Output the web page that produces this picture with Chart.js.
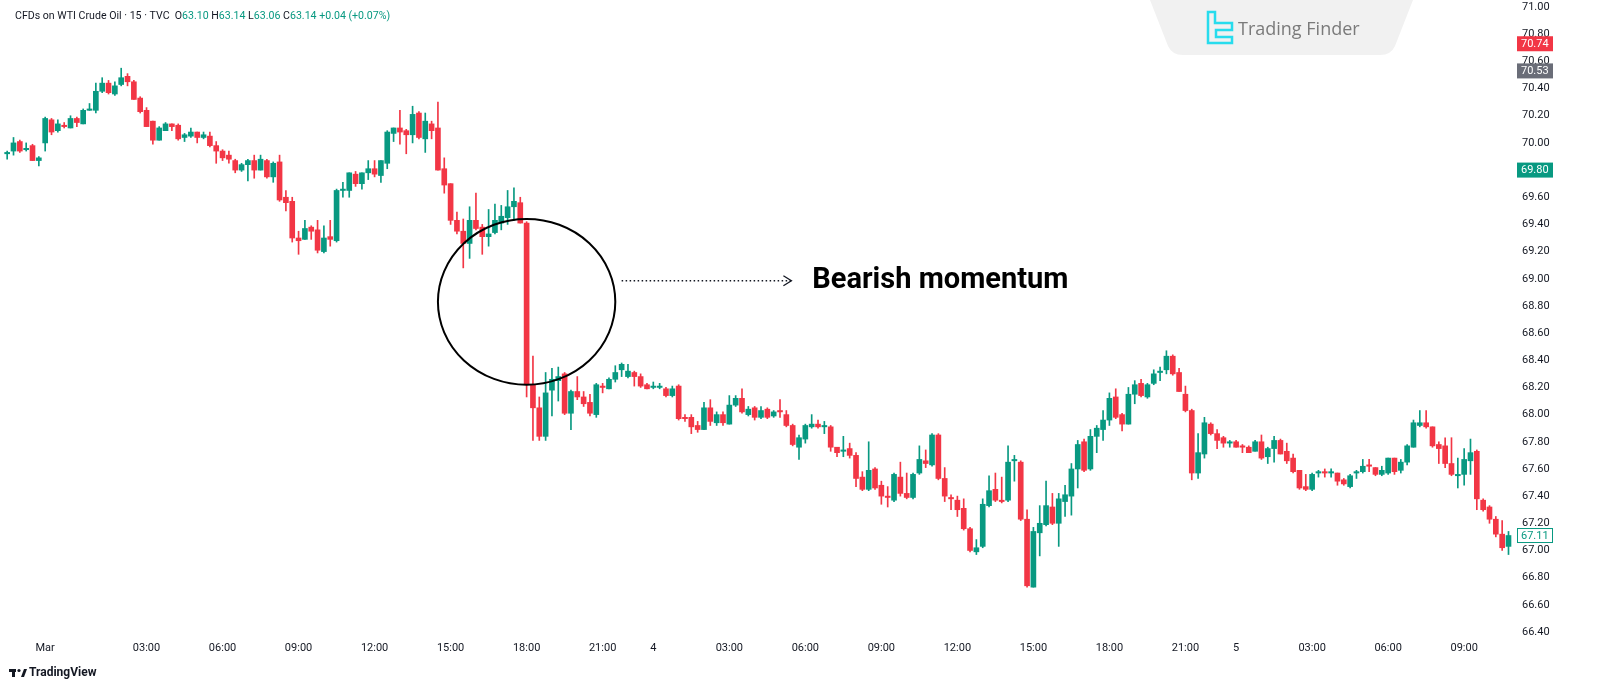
<!DOCTYPE html>
<html>
<head>
<meta charset="utf-8">
<script src="https://cdn.jsdelivr.net/npm/chart.js@4.4.0/dist/chart.umd.min.js"></script>
<style>
  html, body { margin: 0; padding: 0; background: #ffffff; }
  #wrap { width: 1600px; height: 700px; }
</style>
</head>
<body>
<div id="wrap"><canvas id="oil-chart" width="1600" height="700"></canvas></div>
<script>
// 15 min candles, WTI crude CFD
const opens = [
  69.92,69.94,70.01,69.95,69.98,69.87,70.00,70.17,70.09,70.13,70.11,70.18,70.14,70.24,70.24,70.38,70.44,70.36,70.43,70.49,
  70.45,70.33,70.24,70.16,70.02,70.09,70.14,70.13,70.04,70.05,70.08,70.04,70.05,69.98,69.94,69.91,69.87,69.80,69.84,69.87,
  69.80,69.87,69.75,69.86,69.60,69.57,69.30,69.29,69.38,69.36,69.20,69.31,69.28,69.65,69.65,69.77,69.70,69.78,69.81,69.76,
  69.85,70.07,70.11,70.09,70.06,70.22,70.03,70.14,70.11,69.81,69.70,69.43,69.35,69.26,69.43,69.38,69.31,69.34,69.41,69.45,
  69.53,69.56,69.41,68.22,68.05,67.84,68.18,68.25,68.30,68.01,68.17,68.13,68.09,68.00,68.21,68.19,68.26,68.33,68.28,68.31,
  68.28,68.22,68.20,68.20,68.19,68.14,68.21,67.98,67.98,67.92,67.89,68.05,67.94,68.00,67.93,68.07,68.12,68.00,68.05,67.98,
  68.04,67.99,68.03,68.00,67.92,67.76,67.82,67.91,67.93,67.91,67.91,67.76,67.73,67.75,67.70,67.54,67.45,67.60,67.48,67.40,
  67.37,67.54,67.42,67.39,67.57,67.66,67.63,67.85,67.53,67.39,67.37,67.31,67.16,66.99,67.03,67.33,67.45,67.37,67.37,67.66,
  67.65,67.23,66.73,67.13,67.19,67.32,67.20,67.36,67.40,67.60,67.80,67.60,67.84,67.89,67.96,68.13,68.00,67.93,68.15,68.23,
  68.13,68.23,68.31,68.33,68.43,68.31,68.15,68.03,67.57,67.71,67.93,67.86,67.83,67.79,67.80,67.77,67.76,67.73,67.80,67.69,
  67.75,67.81,67.73,67.68,67.59,67.47,67.45,67.57,67.58,67.57,67.57,67.52,67.47,67.57,67.58,67.63,67.61,67.56,67.57,67.68,
  67.59,67.65,67.76,67.92,67.94,67.91,67.78,67.77,67.64,67.55,67.56,67.66,67.73,67.37,67.32,67.23,67.12,67.03
];
const highs = [
  69.94,70.04,70.02,70.00,69.99,69.90,70.19,70.18,70.17,70.15,70.20,70.19,70.25,70.29,70.44,70.48,70.46,70.45,70.55,70.51,
  70.46,70.34,70.26,70.16,70.12,70.15,70.14,70.14,70.07,70.11,70.08,70.08,70.08,70.01,69.95,69.94,69.88,69.85,69.88,69.91,
  69.91,69.88,69.86,69.91,69.65,69.60,69.35,69.43,69.39,69.43,69.39,69.43,69.66,69.71,69.78,69.79,69.78,69.87,69.87,69.87,
  70.09,70.11,70.24,70.10,70.27,70.23,70.22,70.16,70.30,69.89,69.70,69.49,69.44,69.53,69.63,69.40,69.51,69.55,69.54,69.65,
  69.67,69.60,69.42,68.43,68.13,68.31,68.34,68.35,68.31,68.18,68.28,68.17,68.15,68.23,68.23,68.27,68.36,68.38,68.37,68.32,
  68.30,68.23,68.24,68.23,68.20,68.21,68.22,68.00,68.00,67.95,68.09,68.11,68.02,68.02,68.14,68.14,68.19,68.06,68.06,68.06,
  68.05,68.03,68.11,68.03,67.93,67.85,67.93,68.00,67.96,67.95,67.92,67.76,67.84,67.79,67.72,67.58,67.80,67.61,67.51,67.47,
  67.57,67.65,67.57,67.57,67.77,67.74,67.86,67.86,67.61,67.41,67.40,67.38,67.17,67.08,67.38,67.55,67.57,67.54,67.77,67.70,
  67.66,67.30,67.17,67.33,67.51,67.42,67.42,67.48,67.64,67.81,67.82,67.89,67.92,68.03,68.16,68.19,68.01,68.20,68.25,68.26,
  68.23,68.33,68.35,68.47,68.44,68.34,68.21,68.04,67.86,67.98,67.94,67.89,67.84,67.81,67.81,67.78,67.77,67.81,67.85,67.76,
  67.84,67.82,67.79,67.71,67.59,67.56,67.57,67.59,67.60,67.60,67.57,67.53,67.56,67.59,67.67,67.67,67.61,67.62,67.68,67.68,
  67.67,67.78,67.96,68.03,68.03,67.91,67.80,67.83,67.83,67.68,67.75,67.82,67.74,67.38,67.33,67.25,67.22,67.14
];
const lows = [
  69.88,69.91,69.93,69.94,69.87,69.83,69.94,70.06,70.08,70.11,70.11,70.12,70.14,70.24,70.22,70.37,70.36,70.35,70.42,70.42,
  70.32,70.22,70.12,69.99,70.02,70.09,70.09,70.02,70.01,70.04,70.00,70.03,69.97,69.85,69.87,69.85,69.78,69.79,69.72,69.74,
  69.80,69.74,69.71,69.57,69.50,69.27,69.18,69.29,69.29,69.19,69.19,69.24,69.27,69.60,69.60,69.68,69.66,69.73,69.75,69.71,
  69.81,70.01,69.99,69.92,70.00,70.03,69.93,70.03,69.80,69.63,69.40,69.33,69.08,69.15,69.36,69.18,69.24,69.33,69.36,69.40,
  69.43,69.41,68.13,67.81,67.81,67.81,67.99,68.10,68.00,67.89,68.11,68.06,67.99,67.98,68.16,68.19,68.24,68.28,68.27,68.21,
  68.20,68.19,68.19,68.19,68.13,68.13,67.96,67.95,67.86,67.87,67.89,67.92,67.92,67.92,67.93,68.06,68.01,67.99,67.96,67.97,
  67.97,67.98,67.98,67.91,67.77,67.67,67.79,67.90,67.90,67.86,67.73,67.69,67.69,67.68,67.47,67.44,67.44,67.45,67.34,67.32,
  67.36,67.40,67.38,67.38,67.56,67.61,67.62,67.52,67.36,67.30,67.25,67.15,66.99,66.97,67.02,67.32,67.36,67.35,67.36,67.51,
  67.22,66.73,66.73,66.96,67.18,67.19,67.03,67.25,67.26,67.46,67.58,67.59,67.72,67.81,67.92,67.97,67.88,67.93,68.08,68.13,
  68.12,68.22,68.25,68.30,68.29,68.17,68.02,67.52,67.53,67.68,67.85,67.75,67.76,67.76,67.76,67.72,67.72,67.73,67.67,67.64,
  67.65,67.71,67.64,67.57,67.45,67.44,67.44,67.54,67.54,67.54,67.48,67.48,67.46,67.53,67.57,67.58,67.55,67.55,67.56,67.56,
  67.57,67.63,67.76,67.91,67.90,67.76,67.64,67.61,67.55,67.46,67.48,67.56,67.30,67.29,67.20,67.10,67.00,66.97
];
const closes = [
  69.93,70.00,69.94,69.96,69.87,69.89,70.18,70.08,70.14,70.12,70.18,70.15,70.24,70.25,70.38,70.44,70.37,70.42,70.48,70.45,
  70.32,70.23,70.12,70.02,70.11,70.14,70.12,70.03,70.06,70.08,70.04,70.06,69.98,69.94,69.89,69.88,69.80,69.84,69.87,69.80,
  69.88,69.75,69.85,69.58,69.56,69.30,69.28,69.37,69.35,69.21,69.30,69.29,69.65,69.66,69.78,69.70,69.78,69.81,69.77,69.87,
  70.08,70.11,70.08,70.06,70.21,70.04,70.16,70.09,69.80,69.69,69.43,69.35,69.26,69.43,69.37,69.31,69.33,69.43,69.46,69.53,
  69.57,69.41,68.22,68.05,67.84,68.16,68.26,68.28,68.01,68.17,68.13,68.08,68.01,68.22,68.20,68.26,68.31,68.37,68.32,68.28,
  68.21,68.19,68.21,68.21,68.14,68.19,67.97,67.97,67.91,67.89,68.05,67.95,68.00,67.94,68.07,68.12,68.02,68.04,67.98,68.03,
  67.98,68.02,68.02,67.92,67.78,67.83,67.92,67.93,67.91,67.92,67.76,67.72,67.74,67.70,67.53,67.45,67.59,67.46,67.40,67.39,
  67.56,67.42,67.39,67.56,67.67,67.64,67.85,67.53,67.40,67.38,67.30,67.16,67.00,67.02,67.34,67.44,67.37,67.36,67.65,67.67,
  67.23,66.74,67.14,67.20,67.33,67.20,67.38,67.41,67.60,67.78,67.59,67.84,67.90,67.96,68.12,67.98,67.93,68.15,68.22,68.14,
  68.22,68.30,68.32,68.43,68.30,68.17,68.03,67.57,67.72,67.94,67.86,67.81,67.79,67.80,67.76,67.76,67.72,67.80,67.68,67.75,
  67.81,67.71,67.66,67.58,67.46,67.45,67.56,67.58,67.57,67.58,67.51,67.49,67.55,67.58,67.62,67.62,67.56,67.59,67.68,67.58,
  67.65,67.77,67.94,67.94,67.91,67.77,67.75,67.64,67.56,67.56,67.67,67.72,67.38,67.30,67.23,67.12,67.02,67.11
];

// time axis: candle slot of each label and its text
const timeTickSlots = [6, 22, 34, 46, 58, 70, 82, 94, 102, 114, 126, 138, 150, 162, 174, 186, 194, 206, 218, 230];
const timeTickText = ['Mar','03:00','06:00','09:00','12:00','15:00','18:00','21:00','4','03:00','06:00','09:00','12:00','15:00','18:00','21:00','5','03:00','06:00','09:00'];

// price axis
const priceTicks = [66.40,66.60,66.80,67.00,67.20,67.40,67.60,67.80,68.00,68.20,68.40,68.60,68.80,69.00,69.20,69.40,69.60,69.80,70.00,70.20,70.40,70.60,70.80,71.00];
const priceTagValues = [70.73, 70.53, 69.80, 67.11];
const priceTagText = ['70.74', '70.53', '69.80', '67.11'];
const priceTagKinds = ['red', 'gray', 'green', 'last'];

const UP = '#089981';
const DOWN = '#f23645';
const INK = '#131722';
const slotCount = opens.length + 1;

function candleColor(ctx) {
  const i = ctx.dataIndex;
  return closes[i] >= opens[i] ? UP : DOWN;
}

function noPad(s) {
  s.paddingTop = 0;
  s.paddingBottom = 0;
  s.paddingLeft = 0;
  s.paddingRight = 0;
}

const decorations = {
  id: 'decorations',
  beforeDatasetsDraw(chart) {
    const c = chart.ctx;
    // Trading Finder watermark tab
    c.save();
    c.fillStyle = '#f1f1f1';
    c.beginPath();
    c.moveTo(1150, 0);
    c.lineTo(1413, 0);
    c.lineTo(1395, 46);
    c.quadraticCurveTo(1391, 55, 1380, 55);
    c.lineTo(1183, 55);
    c.quadraticCurveTo(1172, 55, 1168, 46);
    c.closePath();
    c.fill();
    c.strokeStyle = '#27dced';
    c.lineWidth = 2.5;
    c.lineJoin = 'miter';
    c.beginPath();
    c.moveTo(1208, 12); c.lineTo(1215, 12); c.lineTo(1215, 23); c.lineTo(1232, 23);
    c.lineTo(1232, 30); c.lineTo(1216, 30); c.lineTo(1216, 37); c.lineTo(1232, 37);
    c.lineTo(1232, 43); c.lineTo(1208, 43); c.closePath();
    c.stroke();
    c.fillStyle = '#7a7a7a';
    c.font = '18px "Open Sans", sans-serif';
    c.textBaseline = 'middle';
    c.fillText('Trading Finder', 1238, 30);
    c.restore();
  },
  afterDraw(chart) {
    const c = chart.ctx;
    const xs = chart.scales.x;
    const ys = chart.scales.y;

    // circle around the big bearish candle
    const cx = xs.getPixelForValue(82);
    const cy = ys.getPixelForValue(68.83);
    const rx = xs.getPixelForValue(96) - cx;
    const ry = ys.getPixelForValue(68.22) - cy;
    c.save();
    c.strokeStyle = '#000000';
    c.lineWidth = 2;
    c.beginPath();
    c.ellipse(cx, cy, rx, ry, 0, 0, Math.PI * 2);
    c.stroke();

    // dotted arrow
    const ay = ys.getPixelForValue(68.985);
    const ax0 = xs.getPixelForValue(97);
    const ax1 = xs.getPixelForValue(123.8);
    c.strokeStyle = INK;
    c.lineWidth = 1.5;
    c.setLineDash([1.5, 2.5]);
    c.beginPath();
    c.moveTo(ax0, ay);
    c.lineTo(ax1, ay);
    c.stroke();
    c.setLineDash([]);
    c.lineWidth = 1.3;
    c.beginPath();
    c.moveTo(ax1 - 8, ay - 5);
    c.lineTo(ax1, ay);
    c.lineTo(ax1 - 8, ay + 5);
    c.stroke();

    // label
    c.fillStyle = '#000000';
    c.font = 'bold 29px Roboto, sans-serif';
    c.textBaseline = 'middle';
    c.fillText('Bearish momentum', xs.getPixelForValue(127.1), ys.getPixelForValue(68.985));
    c.restore();

    // price tags on the axis
    c.save();
    c.font = '11px Roboto, sans-serif';
    c.textBaseline = 'middle';
    priceTagValues.forEach((v, k) => {
      const y = ys.getPixelForValue(v);
      const kind = priceTagKinds[k];
      const x0 = xs.right - 1, w = 36, h = 15;
      let bg = UP, fg = '#ffffff';
      if (kind === 'red') bg = DOWN;
      if (kind === 'gray') bg = '#6a6d78';
      if (kind === 'last') {
        c.fillStyle = '#ffffff';
        c.fillRect(x0, y - h / 2, w, h);
        c.strokeStyle = UP;
        c.lineWidth = 1;
        c.strokeRect(x0 + 0.5, y - h / 2 + 0.5, w - 1, h - 1);
        fg = UP;
      } else {
        c.fillStyle = bg;
        c.fillRect(x0, y - h / 2, w, h);
      }
      c.fillStyle = fg;
      c.fillText(priceTagText[k], x0 + 4, y + 0.5);
    });
    c.restore();

    // header line
    c.save();
    c.font = '10.6px Roboto, sans-serif';
    c.textBaseline = 'middle';
    let x = 15;
    const put = (t, col) => { c.fillStyle = col; c.fillText(t, x, 16); x += c.measureText(t).width; };
    put('CFDs on WTI Crude Oil \u00b7 15 \u00b7 TVC  ', INK);
    put('O', INK); put('63.10 ', UP);
    put('H', INK); put('63.14 ', UP);
    put('L', INK); put('63.06 ', UP);
    put('C', INK); put('63.14 ', UP);
    put('+0.04 (+0.07%)', UP);

    // TradingView mark
    c.fillStyle = INK;
    c.fillRect(9, 669, 7, 3);
    c.fillRect(12, 669, 3, 8);
    c.beginPath();
    c.arc(19, 670.5, 1.6, 0, Math.PI * 2);
    c.fill();
    c.beginPath();
    c.moveTo(21, 677); c.lineTo(24, 669); c.lineTo(27, 669); c.lineTo(24, 677); c.closePath();
    c.fill();
    c.font = 'bold 12px Roboto, sans-serif';
    c.fillText('TradingView', 29, 673);
    c.restore();
  }
};

const config = {
  type: 'bar',
  data: {
    labels: Array.from({ length: slotCount }, (_, i) => i),
    datasets: [
      {
        label: 'body',
        data: opens.map((o, i) => [o, closes[i]]),
        backgroundColor: candleColor,
        borderWidth: 0,
        barThickness: 5,
        grouped: false,
        order: 0
      },
      {
        label: 'wick',
        data: lows.map((l, i) => [l, highs[i]]),
        backgroundColor: candleColor,
        borderWidth: 0,
        barThickness: 1,
        grouped: false,
        order: 1
      }
    ]
  },
  options: {
    responsive: false,
    animation: false,
    devicePixelRatio: 1,
    layout: { padding: { left: 4, right: 0, top: 0, bottom: 0 } },
    plugins: { legend: { display: false }, tooltip: { enabled: false } },
    scales: {
      x: {
        type: 'category',
        offset: true,
        grid: { display: false, drawTicks: false },
        border: { display: false },
        afterFit: s => { s.height = 63; noPad(s); },
        afterBuildTicks: s => { s.ticks = timeTickSlots.map(v => ({ value: v })); },
        ticks: {
          autoSkip: false,
          maxRotation: 0,
          padding: 5,
          color: INK,
          font: { family: 'Roboto', size: 11 },
          callback: (v) => timeTickText[timeTickSlots.indexOf(v)]
        }
      },
      y: {
        position: 'right',
        min: 66.363,
        max: 71.052,
        grid: { display: false, drawTicks: false },
        border: { display: false },
        afterFit: s => { s.width = 82; noPad(s); },
        afterBuildTicks: s => { s.ticks = priceTicks.map(v => ({ value: v })); },
        ticks: {
          padding: 4,
          color: INK,
          font: { family: 'Roboto', size: 11 },
          callback: v => Number(v).toFixed(2)
        }
      }
    }
  },
  plugins: [decorations]
};

window.onload = function () {
  const ctx = document.getElementById('oil-chart').getContext('2d');
  window.oilChart = new Chart(ctx, config);
};
</script>
</body>
</html>
